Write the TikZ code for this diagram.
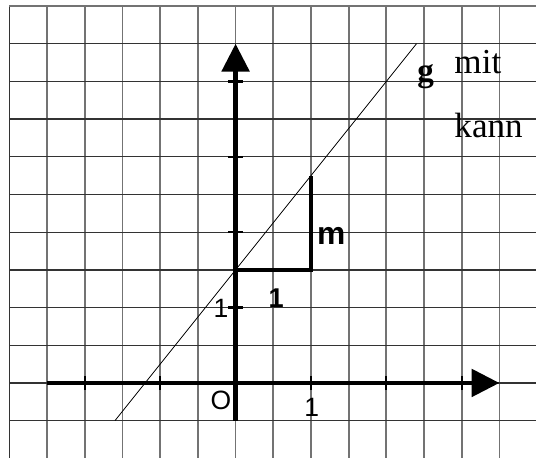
\documentclass[tikz,border=0pt]{standalone}
\usepackage{fontspec}
\setmainfont{Liberation Serif}
\setsansfont{Liberation Sans}
\usetikzlibrary{arrows.meta}
\tikzset{
    grid_light/.style={draw=black!55, line width=1.3pt},
    grid_dark/.style={draw=black!80, line width=1pt},
    axis_arrow/.style={
        -{Triangle[length=21pt, width=20.5pt]}, line width=3.6pt, draw=black
    },
    tick_mark/.style={line width=1.7pt, draw=black},
    slope_line/.style={line width=2.6pt, draw=black},
    graph_line/.style={line width=0.6pt, draw=black},
    lbl_sans/.style={font=\sffamily\fontsize{20}{24}\selectfont, inner sep=0pt},
    lbl_bold/.style={font=\sffamily\bfseries\fontsize{20.5}{24}\selectfont, inner sep=0pt},
    lbl_serif/.style={font=\fontsize{26.5}{30}\selectfont, inner sep=0pt}
}

\begin{document}
\begin{tikzpicture}

    \useasboundingbox (-6.25,-1.99) rectangle (7.97,10.16);

    % grid
    \foreach \x in {-5,...,7} \draw[grid_light] (\x,-1.99) -- (\x,10);
    \draw[grid_dark] (-6,-1.99) -- (-6,10);
    \foreach \y in {-1,...,9} \draw[grid_dark] (-6,\y) -- (7.97,\y);
    \draw[grid_light] (-6,10) -- (7.97,10);

    % axes
    \coordinate (x_start) at (-5,0);
    \coordinate (x_end) at (7,0);
    \coordinate (y_start) at (0,-1);
    \coordinate (y_end) at (0,9);
    \draw[axis_arrow] (x_start) -- (x_end);
    \draw[axis_arrow] (y_start) -- (y_end);

    \foreach \x in {-4,-2,2,4,6} \draw[tick_mark] (\x,-0.19) -- (\x,0.19);
    \foreach \y in {2,4,6,8} \draw[tick_mark] (-0.19,\y) -- (0.19,\y);

    % line g and slope triangle
    \coordinate (g_low) at (-3.2,-1);
    \coordinate (g_high) at (4.8,9);
    \draw[graph_line] (g_low) -- (g_high);

    \coordinate (tri_a) at (0,3);
    \coordinate (tri_b) at (2,3);
    \coordinate (tri_c) at (2,5.5);
    \draw[slope_line] (tri_a) -- (tri_b) -- (tri_c);

    % labels
    \node[lbl_sans] (origin) at (-0.39,-0.45) {O};
    \node[lbl_sans] (x_one) at (2.02,-0.64) {1};
    \node[lbl_sans] (y_one) at (-0.39,1.99) {1};
    \node[lbl_bold] (run) at (1.08,2.25) {1};
    \node[lbl_bold, font=\sffamily\bfseries\fontsize{24}{28}\selectfont] (rise) at (2.54,3.89) {m};

    \node[lbl_serif, font=\bfseries\fontsize{25}{30}\selectfont, anchor=base] (g_name) at (5.04,8.01) {g};
    \node[lbl_serif, anchor=base west] (mit) at (5.80,8.22) {mit};
    \node[lbl_serif, anchor=base west] (kann) at (5.80,6.5) {kann};

\end{tikzpicture}
\end{document}
